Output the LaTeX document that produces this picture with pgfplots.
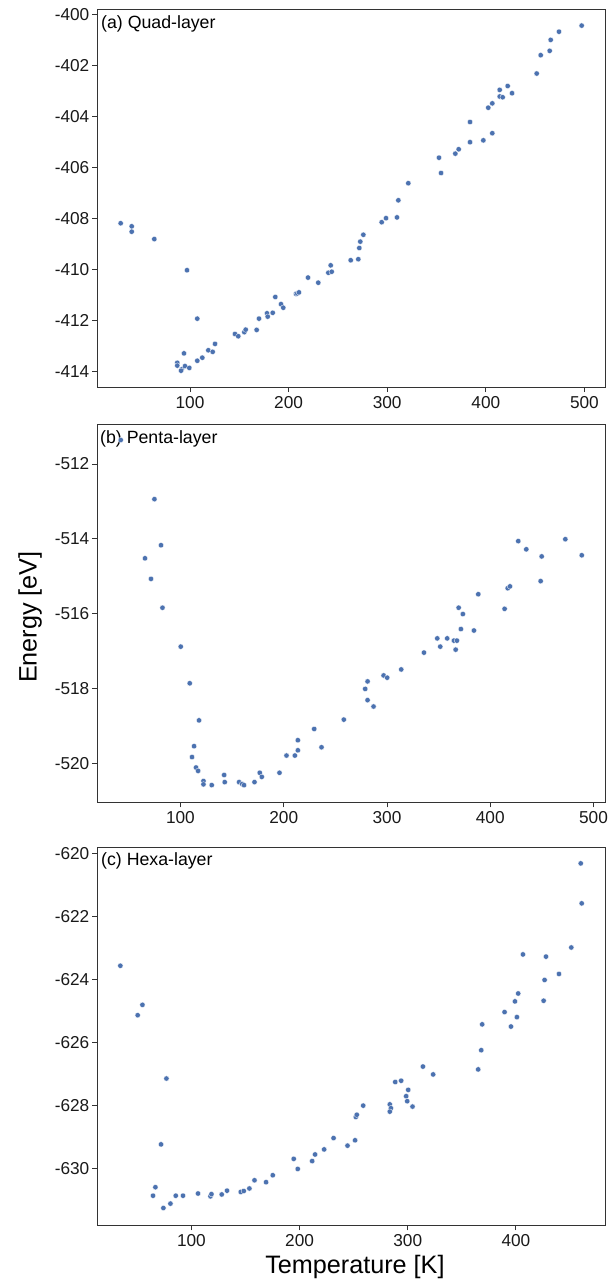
\documentclass[border=0pt]{standalone}
\usepackage{fontspec}
\setmainfont{Liberation Sans}
\usepackage{pgfplots}
\pgfplotsset{compat=1.18}
\definecolor{dotblue}{HTML}{4C72B0}
\definecolor{framec}{HTML}{333333}
\pgfplotsset{
  panel/.style={
    width=508.7bp, height=378bp, scale only axis,
    axis line style={framec, line width=0.9bp},
    every tick/.style={framec, line width=0.9bp},
    major tick length=5bp,
    tick align=outside,
    xtick pos=bottom, ytick pos=left,
    /pgf/number format/assume math mode=true,
    tick label style={font=\fontsize{17.3}{17.3}\selectfont, text=black!90},
    yticklabel style={inner sep=2.5bp},
    xticklabel style={inner sep=2.5bp, yshift=-1.5bp},
  },
  dots/.style={only marks, mark=*, mark size=2.7bp,
    mark options={fill=dotblue, draw=white, line width=0.3bp}},
}
\begin{document}
\begin{tikzpicture}[x=1bp,y=1bp]
\useasboundingbox (0,0) rectangle (608,-1282);
% (a)
\begin{axis}[panel, at={(97bp,-9bp)}, anchor=north west,
  xmin=5.7, xmax=521.6, ymin=-414.6, ymax=-399.78,
  xtick={100,200,300,400,500}, ytick={-414,-412,-410,-408,-406,-404,-402,-400}]
\addplot[dots] table {
x y
29.7 -408.18
40.9 -408.30
40.9 -408.51
63.8 -408.80
97.0 -410.02
107.4 -411.92
93.9 -413.28
87.1 -413.65
87.1 -413.76
91.6 -413.91
90.9 -413.96
94.9 -413.78
99.3 -413.85
107.4 -413.57
112.5 -413.45
118.6 -413.16
123.0 -413.22
125.4 -412.91
145.6 -412.52
149.0 -412.61
155.1 -412.45
156.5 -412.35
167.6 -412.36
170.0 -411.92
178.1 -411.71
178.8 -411.84
183.9 -411.69
186.5 -411.07
192.3 -411.35
194.6 -411.49
207.5 -410.95
208.8 -410.93
210.5 -410.89
219.7 -410.31
230.1 -410.51
240.3 -410.12
243.7 -410.08
242.7 -409.83
263.0 -409.63
270.7 -409.59
271.7 -409.15
272.7 -408.90
275.8 -408.63
294.4 -408.14
298.8 -407.98
309.9 -407.95
311.3 -407.28
321.4 -406.61
354.6 -406.21
352.5 -405.61
369.1 -405.45
372.5 -405.28
384.0 -405.00
384.0 -404.21
397.5 -404.93
406.6 -404.65
402.5 -403.65
406.6 -403.48
414.1 -402.95
414.1 -403.21
417.1 -403.24
422.2 -402.80
426.6 -403.08
451.6 -402.31
455.7 -401.59
464.8 -401.42
465.8 -400.99
474.2 -400.67
497.2 -400.43
};
\node[anchor=base west, font=\fontsize{17.8}{17.8}\selectfont, inner sep=0pt, xshift=4bp, yshift=-19.3bp] at (rel axis cs:0,1) {(a) Quad-layer};
\end{axis}
% (b)
\begin{axis}[panel, at={(97bp,-424.3bp)}, anchor=north west,
  xmin=19.2, xmax=511.8, ymin=-521.04, ymax=-510.94,
  xtick={100,200,300,400,500}, ytick={-520,-518,-516,-514,-512},
  ylabel={Energy [eV]},
  ylabel style={at={(axis description cs:-0.1317,0.49)}, anchor=center, font=\fontsize{25.3}{25.3}\selectfont}]
\addplot[dots] table {
x y
42.2 -511.36
74.8 -512.94
81.2 -514.17
65.7 -514.52
71.5 -515.07
82.6 -515.84
100.3 -516.88
109.0 -517.86
118.0 -518.85
113.2 -519.54
111.2 -519.83
115.1 -520.11
117.1 -520.20
122.3 -520.47
122.3 -520.56
130.3 -520.58
142.3 -520.31
142.9 -520.50
156.8 -520.50
159.7 -520.55
161.6 -520.58
171.7 -520.50
176.8 -520.25
178.8 -520.36
195.9 -520.25
202.7 -519.79
210.8 -519.79
213.7 -519.65
213.7 -519.38
229.5 -519.08
236.6 -519.57
258.2 -518.83
278.9 -518.01
281.2 -517.81
281.2 -518.31
287.0 -518.48
296.7 -517.65
300.2 -517.71
313.8 -517.49
335.8 -517.04
348.7 -516.66
351.6 -516.88
358.3 -516.66
364.8 -516.72
367.7 -516.72
366.5 -516.96
371.6 -516.41
373.5 -516.01
384.2 -516.45
369.4 -515.84
388.4 -515.48
413.9 -515.87
416.9 -515.32
419.1 -515.27
427.1 -514.06
434.9 -514.28
448.8 -515.13
449.8 -514.47
472.7 -514.01
488.6 -514.44
};
\node[anchor=base west, font=\fontsize{17.8}{17.8}\selectfont, inner sep=0pt, xshift=3bp, yshift=-19bp] at (rel axis cs:0,1) {(b) Penta-layer};
\end{axis}
% (c)
\begin{axis}[panel, at={(97bp,-847.3bp)}, anchor=north west,
  xmin=12.7, xmax=483, ymin=-631.79, ymax=-619.79,
  xtick={100,200,300,400}, ytick={-630,-628,-626,-624,-622,-620},
  xlabel={Temperature [K]},
  xlabel style={at={(axis description cs:0.507,-0.127)}, anchor=base, font=\fontsize{25.3}{25.3}\selectfont}]
\addplot[dots] table {
x y
34.3 -623.55
54.7 -624.79
50.3 -625.12
76.9 -627.13
71.9 -629.22
66.7 -630.58
64.5 -630.85
74.1 -631.24
80.6 -631.10
85.5 -630.85
92.2 -630.85
106.1 -630.78
117.6 -630.87
118.5 -630.80
128.0 -630.81
132.9 -630.69
145.6 -630.73
148.4 -630.70
153.6 -630.62
158.3 -630.36
169.0 -630.42
175.2 -630.20
194.6 -629.68
198.3 -630.00
211.6 -629.75
214.3 -629.54
222.7 -629.38
231.4 -629.02
244.3 -629.26
251.3 -629.09
252.0 -628.35
252.9 -628.28
258.8 -627.99
283.4 -627.95
284.4 -628.07
283.4 -628.18
288.4 -627.24
293.9 -627.20
300.4 -627.49
298.5 -627.69
299.5 -627.85
304.4 -628.02
314.0 -626.75
323.5 -627.00
365.1 -626.84
367.9 -626.23
368.8 -625.41
389.5 -625.02
395.4 -625.48
400.9 -625.18
399.1 -624.68
402.1 -624.43
425.6 -624.66
426.5 -624.00
427.8 -623.26
406.5 -623.19
439.8 -623.81
451.2 -622.97
460.8 -621.57
459.9 -620.30
};
\node[anchor=base west, font=\fontsize{17.8}{17.8}\selectfont, inner sep=0pt, xshift=4bp, yshift=-18.4bp] at (rel axis cs:0,1) {(c) Hexa-layer};
\end{axis}
\end{tikzpicture}
\end{document}
